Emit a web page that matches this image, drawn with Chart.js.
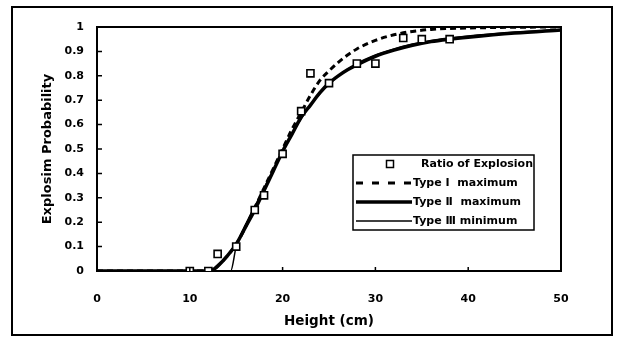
<!DOCTYPE html>
<html>
<head>
<meta charset="utf-8">
<script src="https://cdn.jsdelivr.net/npm/chart.js@4.4.1/dist/chart.umd.min.js"></script>
<style>
  html, body { margin: 0; padding: 0; background: #fff; }
  #wrap { width: 618px; height: 341px; }
</style>
</head>
<body>
<div id="wrap"><canvas id="c" width="618" height="341"></canvas></div>
<script>
// Measured explosion ratio at each drop height
const heights = [10, 12, 13, 15, 17, 18, 20, 22, 23, 25, 28, 30, 33, 35, 38];
const ratio   = [0, 0, 0.07, 0.10, 0.25, 0.31, 0.48, 0.655, 0.81, 0.77, 0.85, 0.85, 0.955, 0.95, 0.95];

// Fitted extreme-value curves (probability vs height)
const curveHeights = [0, 12, 12.5, 13, 14, 15, 16, 17, 18, 19, 20, 21, 22, 23, 24, 25, 26, 27, 28, 30, 32, 34, 36, 38, 40, 45, 50];
const typeIMax  = [0, 0, 0.005, 0.02, 0.06, 0.11, 0.18, 0.26, 0.34, 0.42, 0.50, 0.58, 0.65, 0.72, 0.78, 0.82, 0.855, 0.885, 0.91, 0.945, 0.968, 0.982, 0.99, 0.994, 0.996, 0.999, 1.0];
const typeIIMax = [0, 0, 0.005, 0.02, 0.06, 0.11, 0.18, 0.25, 0.33, 0.41, 0.49, 0.56, 0.63, 0.68, 0.73, 0.77, 0.80, 0.825, 0.845, 0.88, 0.905, 0.925, 0.94, 0.95, 0.958, 0.975, 0.988];
const typeIIIHeights = [0, 14.4, 15, 16, 17, 18, 19, 20, 21, 22, 23, 24, 25, 26, 28, 30, 32, 34, 36, 38, 40, 45, 50];
const typeIIIMin = [0, 0, 0.10, 0.19, 0.265, 0.34, 0.415, 0.49, 0.56, 0.625, 0.68, 0.725, 0.765, 0.80, 0.85, 0.885, 0.91, 0.93, 0.945, 0.955, 0.963, 0.978, 0.99];

// Axis ticks
const xTicks = [0, 10, 20, 30, 40, 50];
const yTicks = [0, 0.1, 0.2, 0.3, 0.4, 0.5, 0.6, 0.7, 0.8, 0.9, 1];

const FONT = "'DejaVu Sans', 'Liberation Sans', Arial, sans-serif";
const pts = (xs, ys) => xs.map((x, i) => ({ x: x, y: ys[i] }));

// Frame, inward tick marks, outer border and the in-plot legend
const decorations = {
  id: 'decorations',
  beforeDraw(chart) {
    const ctx = chart.ctx;
    ctx.save();
    ctx.fillStyle = '#fff';
    ctx.fillRect(0, 0, chart.width, chart.height);
    ctx.strokeStyle = '#000';
    ctx.lineWidth = 2;
    ctx.strokeRect(12, 7, 600, 328);
    ctx.restore();
  },
  afterDatasetsDraw(chart) {
    const ctx = chart.ctx;
    const a = chart.chartArea;
    const xs = chart.scales.x, ys = chart.scales.y;
    ctx.save();
    ctx.strokeStyle = '#000';
    ctx.lineWidth = 2;
    ctx.beginPath();
    ctx.moveTo(a.left, a.top);
    ctx.lineTo(a.right, a.top);
    ctx.lineTo(a.right, a.bottom);
    ctx.stroke();
    ctx.lineWidth = 1.5;
    ctx.beginPath();
    xs.ticks.forEach(t => {
      const px = xs.getPixelForValue(t.value);
      ctx.moveTo(px, a.bottom);
      ctx.lineTo(px, a.bottom - 4);
    });
    ys.ticks.forEach(t => {
      const py = ys.getPixelForValue(t.value);
      ctx.moveTo(a.left, py);
      ctx.lineTo(a.left + 5, py);
    });
    ctx.stroke();

    // legend box
    const bx = 353, by = 155, bw = 181, bh = 75;
    ctx.fillStyle = '#fff';
    ctx.fillRect(bx, by, bw, bh);
    ctx.lineWidth = 1.5;
    ctx.strokeRect(bx, by, bw, bh);
    const rows = [164, 183, 202, 221];
    const ds = chart.data.datasets;
    ctx.font = 'bold 11px ' + FONT;
    ctx.textBaseline = 'middle';
    ctx.textAlign = 'left';
    ctx.fillStyle = '#000';
    ds.forEach((d, i) => {
      const y = rows[i];
      if (!d.showLine) {
        ctx.lineWidth = 1.5;
        ctx.fillStyle = '#fff';
        ctx.fillRect(386.5, y - 3.5, 7, 7);
        ctx.strokeRect(386.5, y - 3.5, 7, 7);
        ctx.fillStyle = '#000';
        ctx.fillText(d.label, 421, y);
      } else {
        ctx.lineWidth = d.borderWidth;
        ctx.setLineDash(d.borderDash && d.borderDash.length ? [7, 9] : []);
        ctx.beginPath();
        ctx.moveTo(356, y);
        ctx.lineTo(412, y);
        ctx.stroke();
        ctx.setLineDash([]);
        ctx.fillText(d.label, 413, y);
      }
    });
    ctx.restore();
  }
};

new Chart(document.getElementById('c'), {
  type: 'scatter',
  data: {
    datasets: [
      {
        label: 'Ratio of Explosion',
        data: pts(heights, ratio),
        showLine: false,
        pointStyle: 'rect',
        pointRadius: 5,
        pointBorderWidth: 1.6,
        pointBackgroundColor: '#fff',
        pointBorderColor: '#000'
      },
      {
        label: 'Type Ⅰ  maximum',
        data: pts(curveHeights, typeIMax),
        showLine: true,
        borderColor: '#000',
        borderWidth: 3,
        borderDash: [6, 4],
        pointRadius: 0,
        cubicInterpolationMode: 'monotone'
      },
      {
        label: 'Type Ⅱ  maximum',
        data: pts(curveHeights, typeIIMax),
        showLine: true,
        borderColor: '#000',
        borderWidth: 3.5,
        pointRadius: 0,
        cubicInterpolationMode: 'monotone'
      },
      {
        label: 'Type Ⅲ minimum',
        data: pts(typeIIIHeights, typeIIIMin),
        showLine: true,
        borderColor: '#000',
        borderWidth: 1.5,
        pointRadius: 0,
        cubicInterpolationMode: 'monotone'
      }
    ]
  },
  options: {
    responsive: false,
    animation: false,
    layout: { padding: { left: 0, top: 27, right: 57, bottom: 0 } },
    plugins: { legend: { display: false }, tooltip: { enabled: false } },
    scales: {
      x: {
        type: 'linear',
        min: 0, max: 50,
        afterBuildTicks: s => { s.ticks = xTicks.map(v => ({ value: v })); },
        afterFit: s => { s.height = 70; },
        grid: { display: true, drawOnChartArea: false, drawTicks: false },
        border: { display: true, color: '#000', width: 2 },
        ticks: { color: '#000', padding: 22, font: { family: FONT, size: 11, weight: 'bold' } },
        title: { display: true, text: 'Height (cm)', color: '#000', padding: { top: 0, bottom: 11 },
                 font: { family: FONT, size: 13.5, weight: 'bold' } }
      },
      y: {
        type: 'linear',
        min: 0, max: 1,
        afterBuildTicks: s => { s.ticks = yTicks.map(v => ({ value: v })); },
        afterFit: s => { s.width = 97; },
        grid: { display: true, drawOnChartArea: false, drawTicks: false },
        border: { display: true, color: '#000', width: 2 },
        ticks: { color: '#000', padding: 13, font: { family: FONT, size: 11, weight: 'bold' },
                 callback: v => String(Math.round(v * 10) / 10) },
        title: { display: true, text: 'Explosim Probability', color: '#000', padding: { top: 40, bottom: 0 },
                 font: { family: FONT, size: 13, weight: 'bold' } }
      }
    }
  },
  plugins: [decorations]
});
</script>
</body>
</html>
